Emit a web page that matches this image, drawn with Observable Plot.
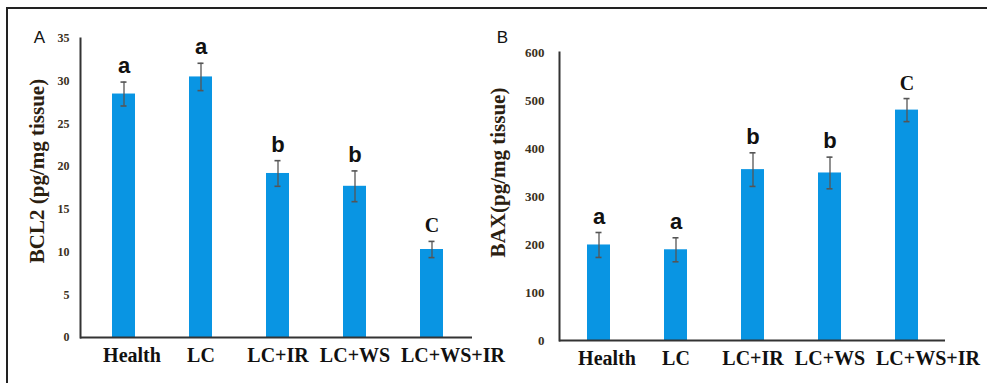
<!DOCTYPE html>
<html><head><meta charset="utf-8">
<script src="https://cdn.jsdelivr.net/npm/d3@7"></script>
<script src="https://cdn.jsdelivr.net/npm/@observablehq/plot@0.6"></script>
<style>
html,body{margin:0;padding:0;background:#fff;}
#wrap{position:relative;width:987px;height:383px;overflow:hidden;background:#fff;}
#wrap svg{position:absolute;top:0;background:transparent !important;overflow:visible;}
#border{position:absolute;left:6px;top:7px;width:990px;height:400px;border-top:2px solid #222;border-left:2px solid #222;z-index:2;}
</style></head><body>
<div id="wrap"><div id="border"></div></div>
<script>
const groups = ["Health", "LC", "LC+IR", "LC+WS", "LC+WS+IR"];
const bcl2 = [28.5, 30.5, 19.2, 17.7, 10.3];
const bcl2Err = [1.4, 1.6, 1.5, 1.8, 0.95];
const bcl2Letters = ["a", "a", "b", "b", "C"];
const bcl2Ticks = [0, 5, 10, 15, 20, 25, 30, 35];
const bax = [199, 189, 356, 349, 480];
const baxErr = [26, 25, 35, 33, 24];
const baxLetters = ["a", "a", "b", "b", "C"];
const baxTicks = [0, 100, 200, 300, 400, 500, 600];

const serif = "Liberation Serif, Times New Roman, serif";
const narrow = "Liberation Sans Narrow, Arial Narrow, Liberation Sans, sans-serif";

function panel(o) {
  const data = groups.map((g, i) => ({g, v: o.values[i], e: o.errs[i], l: o.letters[i]}));
  const xLab = {tickSize: 0, tickPadding: 10, fontSize: 20, fontWeight: "bold", fontFamily: serif, fill: "#111", label: null};
  const p = Plot.plot({
    width: o.width, height: 383,
    marginLeft: o.marginLeft, marginRight: o.marginRight,
    marginTop: o.marginTop, marginBottom: o.marginBottom,
    style: {background: "transparent", overflow: "visible"},
    x: {domain: groups, padding: 0, range: o.xRange, axis: null},
    y: {domain: o.domain, axis: null},
    marks: [
      Plot.barY(data, {x: "g", y: "v", fill: "#0995e3", insetLeft: 27, insetRight: 27}),
      Plot.ruleX(data, {x: "g", y1: d => d.v - d.e, y2: d => d.v + d.e, stroke: "#555", strokeWidth: 1.3}),
      Plot.tickY(data, {x: "g", y: d => d.v + d.e, stroke: "#555", strokeWidth: 1.6, insetLeft: 35.5, insetRight: 35.5}),
      Plot.tickY(data, {x: "g", y: d => d.v - d.e, stroke: "#555", strokeWidth: 1.6, insetLeft: 35.5, insetRight: 35.5}),
      Plot.ruleY([0], {stroke: "#333", strokeWidth: 2}),
      Plot.frame({anchor: "left", stroke: "#333", strokeWidth: 2}),
      Plot.axisY({ticks: o.ticks, tickSize: 0, tickPadding: o.tickPad, fontSize: o.tickFont, fontWeight: "bold", fontFamily: serif, fill: "#3b3020", tickFormat: d => String(d), label: null}),
      Plot.axisX({...xLab, ticks: groups.slice(0, 1), dx: 8}),
      Plot.axisX({...xLab, ticks: groups.slice(1, 4)}),
      Plot.axisX({...xLab, ticks: groups.slice(4), dx: 21}),
      Plot.text(data.filter(d => d.l !== "C"), {x: "g", y: d => d.v + d.e, text: "l", dy: -9, lineAnchor: "bottom", fontSize: 22, fontWeight: "bold", fontFamily: narrow, fill: "#111"}),
      Plot.text(data.filter(d => d.l === "C"), {x: "g", y: d => d.v + d.e, text: "l", dy: -9, lineAnchor: "bottom", fontSize: 20, fontWeight: "bold", fontFamily: serif, fill: "#111"}),
      Plot.text([o.title], {frameAnchor: "left", rotate: -90, dx: o.titleDx, dy: o.titleDy, textAnchor: "middle", lineAnchor: "middle", fontSize: 21, fontWeight: "bold", fontFamily: serif, fill: "#2b2010"}),
      Plot.text([o.tag], {frameAnchor: "top-left", dx: o.tagDx, dy: o.tagDy, textAnchor: "middle", lineAnchor: "middle", fontSize: 17, fontFamily: "Liberation Sans, Arial, sans-serif", fill: "#111"})
    ]
  });
  p.style.left = o.left + "px";
  return p;
}

const wrap = document.getElementById("wrap");
wrap.appendChild(panel({
  values: bcl2, errs: bcl2Err, letters: bcl2Letters, ticks: bcl2Ticks, domain: [0, 35],
  title: "BCL2 (pg/mg tissue)", tag: "A", width: 487, left: 0,
  marginLeft: 80, marginRight: 15, marginTop: 38, marginBottom: 46, xRange: [83, 471],
  tickFont: 12, tickPad: 11, titleDx: -43, titleDy: -17, tagDx: -41, tagDy: -1
}));
wrap.appendChild(panel({
  values: bax, errs: baxErr, letters: baxLetters, ticks: baxTicks, domain: [0, 600],
  title: "BAX(pg/mg tissue)", tag: "B", width: 500, left: 487,
  marginLeft: 72, marginRight: 42, marginTop: 52, marginBottom: 43, xRange: undefined,
  tickFont: 13, tickPad: 15, titleDx: -61, titleDy: -24, tagDx: -57, tagDy: -15
}));
</script>
</body></html>
